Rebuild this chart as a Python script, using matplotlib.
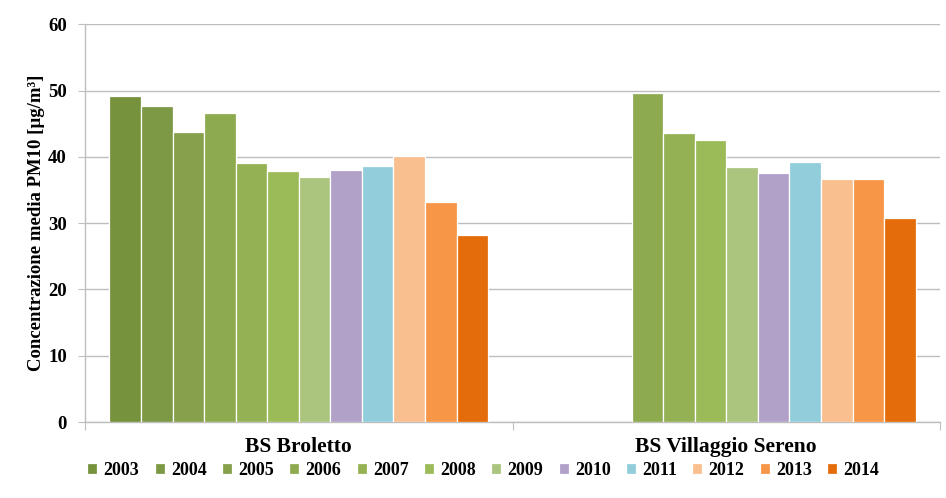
import numpy as np
import matplotlib.pyplot as plt

plt.rcParams['font.family'] = ['Liberation Serif', 'DejaVu Serif']
plt.rcParams['font.weight'] = 'bold'

stations = ['BS Broletto', 'BS Villaggio Sereno']
years = ['2003', '2004', '2005', '2006', '2007', '2008', '2009',
         '2010', '2011', '2012', '2013', '2014']
broletto = [49.2, 47.7, 43.8, 46.6, 39.1, 37.9, 37.0, 38.0, 38.6, 40.1, 33.2, 28.2]
villaggio = [np.nan, np.nan, np.nan, 49.6, 43.6, 42.5, 38.5, 37.5, 39.3, 36.7, 36.7, 30.8]
colors = ['#76923C', '#7E9946', '#86A04B', '#8EAA4F', '#94B254', '#9BBB59',
          '#ABC47E', '#B1A0C7', '#92CDDC', '#FABF8F', '#F79646', '#E46C0A']

fig = plt.figure(figsize=(9.46, 4.98), dpi=100)
ax = fig.add_axes([0.0899, 0.1526, 0.9038, 0.7985])

x = np.arange(len(stations))
group = 0.886
w = group / len(years)
for i, yr in enumerate(years):
    vals = [broletto[i], villaggio[i]]
    ax.bar(x - group / 2 + w * (i + 0.5), vals, width=w, color=colors[i],
           edgecolor='white', linewidth=0.9, label=yr, zorder=3)

ax.set_xlim(-0.5, 1.5)
ax.set_ylim(0, 60)
ax.set_yticks(range(0, 61, 10))
ax.yaxis.grid(True, color='#BEBEBE', linewidth=1.0, zorder=0)
ax.tick_params(axis='y', length=5, color='#BEBEBE', labelsize=13.5, pad=8)

ax.set_xticks([-0.5, 0.5, 1.5])
ax.set_xticklabels([])
ax.set_xticks(x, minor=True)
ax.set_xticklabels(stations, minor=True, fontsize=15.5, fontweight='bold')
ax.tick_params(axis='x', which='major', length=6, color='#BEBEBE', direction='out')
ax.tick_params(axis='x', which='minor', length=0, pad=11)

for s in ['top', 'right']:
    ax.spines[s].set_visible(False)
for s in ['left', 'bottom']:
    ax.spines[s].set_color('#BEBEBE')
    ax.spines[s].set_linewidth(1.0)

ax.set_ylabel('Concentrazione media PM10 [µg/m³]', fontsize=13.5, fontweight='bold', labelpad=2)

fig.legend(loc='center', bbox_to_anchor=(0.511, 0.056), ncol=12, frameon=False,
           fontsize=13, handlelength=0.55, handleheight=0.55, handletextpad=0.35,
           columnspacing=0.85, borderpad=0)

fig.savefig('out.png', dpi=100)
